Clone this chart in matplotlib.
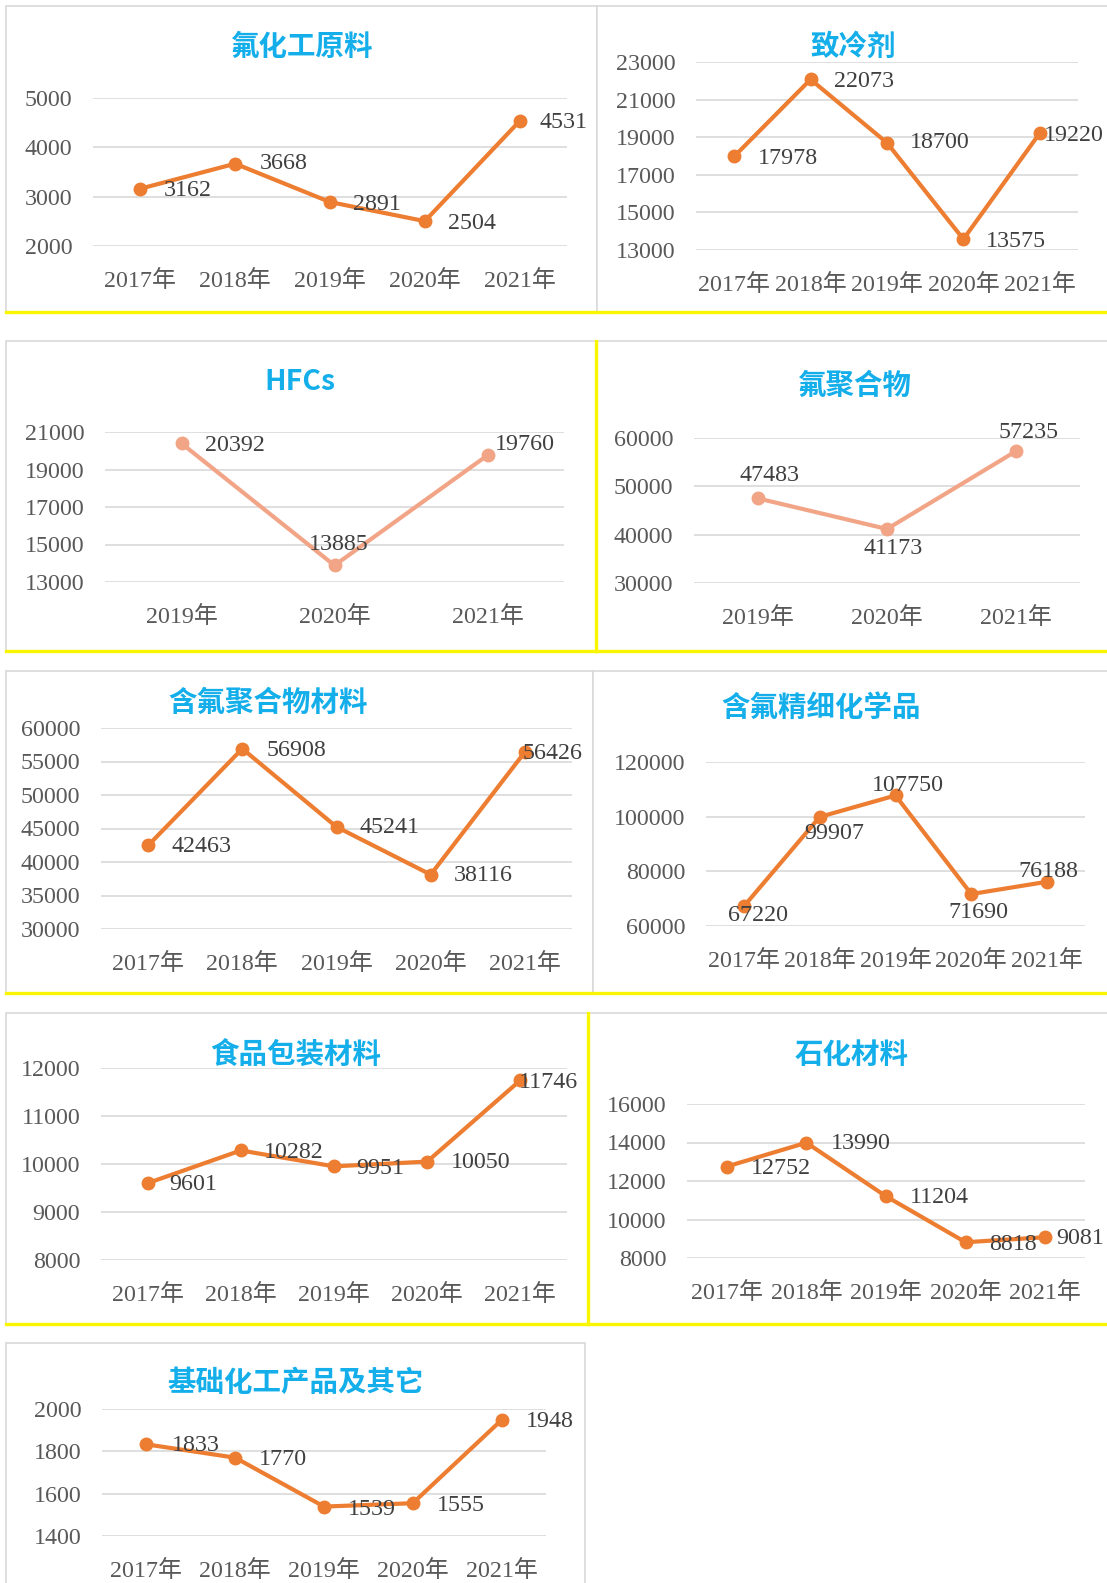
import matplotlib
matplotlib.use('Agg')
import matplotlib.pyplot as plt
from matplotlib.lines import Line2D
from matplotlib.patches import Rectangle

W, H = 1107, 1583
SERIF = ['Liberation Serif', 'Noto Sans CJK SC']
plt.rcParams['font.family'] = SERIF

# data
years5 = ['2017年', '2018年', '2019年', '2020年', '2021年']
years3 = ['2019年', '2020年', '2021年']

fluoro_raw = [3162, 3668, 2891, 2504, 4531]
refrigerant = [17978, 22073, 18700, 13575, 19220]
hfcs = [20392, 13885, 19760]
fluoropolymer = [47483, 41173, 57235]
polymer_material = [42463, 56908, 45241, 38116, 56426]
fine_chem = [67220, 99907, 107750, 71690, 76188]
food_pack = [9601, 10282, 9951, 10050, 11746]
petrochem = [12752, 13990, 11204, 8818, 9081]
basic_chem = [1833, 1770, 1539, 1555, 1948]

ticks_raw = [2000, 3000, 4000, 5000]
ticks_refr = [13000, 15000, 17000, 19000, 21000, 23000]
ticks_hfcs = [13000, 15000, 17000, 19000, 21000]
ticks_fp = [30000, 40000, 50000, 60000]
ticks_pm = [30000, 35000, 40000, 45000, 50000, 55000, 60000]
ticks_fine = [60000, 80000, 100000, 120000]
ticks_food = [8000, 9000, 10000, 11000, 12000]
ticks_petro = [8000, 10000, 12000, 14000, 16000]
ticks_basic = [1400, 1600, 1800, 2000]

ORANGE = '#ED7D31'
SALMON = '#F2A586'
TITLE_C = '#14AEEA'
GRID_C = '#D9D9D9'
YELLOW = '#FAF500'

# layout in pixels: box, plot area (x0, x1, y_top, y_bottom), title centre, label offsets (dx, dy down)
panels = [
    dict(title='氟化工原料', cats=years5, vals=fluoro_raw, ticks=ticks_raw, color=ORANGE,
         box=(6, 6, 597, 312), plot=(93, 567, 98, 246), tpos=(301, 47),
         offs=[(47, 2), (48, 0), (47, 2), (47, 2), (44, 1)]),
    dict(title='致冷剂', cats=years5, vals=refrigerant, ticks=ticks_refr, color=ORANGE,
         box=(597, 6, 1110, 312), plot=(696, 1078, 62, 250), tpos=(853, 47),
         offs=[(54, 2), (53, 2), (53, 0), (53, 2), (34, 2)]),
    dict(title='HFCs', cats=years3, vals=hfcs, ticks=ticks_hfcs, color=SALMON,
         box=(6, 341, 596, 651), plot=(105, 564, 432, 582), tpos=(300, 382),
         offs=[(53, 2), (4, -21), (37, -11)]),
    dict(title='氟聚合物', cats=years3, vals=fluoropolymer, ticks=ticks_fp, color=SALMON,
         box=(596, 341, 1110, 651), plot=(694, 1080, 438, 583), tpos=(854, 386),
         offs=[(11, -23), (6, 20), (13, -19)]),
    dict(title='含氟聚合物材料', cats=years5, vals=polymer_material, ticks=ticks_pm, color=ORANGE,
         box=(6, 671, 593, 993), plot=(101, 572, 728, 929), tpos=(268, 703),
         offs=[(53, 1), (54, 2), (53, 1), (53, 1), (28, 2)]),
    dict(title='含氟精细化学品', cats=years5, vals=fine_chem, ticks=ticks_fine, color=ORANGE,
         box=(593, 671, 1110, 993), plot=(706, 1085, 762, 926), tpos=(821, 708),
         offs=[(14, 9), (15, 17), (12, -10), (7, 18), (1, -10)]),
    dict(title='食品包装材料', cats=years5, vals=food_pack, ticks=ticks_food, color=ORANGE,
         box=(6, 1013, 588, 1324), plot=(101, 567, 1068, 1260), tpos=(296, 1055),
         offs=[(46, 1), (53, 2), (46, 2), (53, 1), (28, 2)]),
    dict(title='石化材料', cats=years5, vals=petrochem, ticks=ticks_petro, color=ORANGE,
         box=(588, 1013, 1110, 1324), plot=(687, 1085, 1104, 1258), tpos=(852, 1055),
         offs=[(54, 2), (54, 1), (53, 1), (47, 2), (35, 1)]),
    dict(title='基础化工产品及其它', cats=years5, vals=basic_chem, ticks=ticks_basic, color=ORANGE,
         box=(6, 1343, 585, 1600), plot=(102, 546, 1409, 1536), tpos=(296, 1383),
         offs=[(49, 1), (48, 2), (48, 3), (48, 2), (48, 1)]),
]

fig = plt.figure(figsize=(W / 100, H / 100), dpi=100)
fig.patch.set_facecolor('white')


def fx(x):
    return x / W


def fy(y):
    return 1 - y / H


for p in panels:
    bx0, by0, bx1, by1 = p['box']
    fig.add_artist(Rectangle((fx(bx0), fy(by1)), fx(bx1 - bx0), (by1 - by0) / H,
                             transform=fig.transFigure, facecolor='white',
                             edgecolor=GRID_C, lw=1.2, zorder=0))

    x0, x1, yt, yb = p['plot']
    ax = fig.add_axes([fx(x0), fy(yb), fx(x1 - x0), (yb - yt) / H])
    n = len(p['cats'])
    xs = list(range(n))
    ax.plot(xs, p['vals'], color=p['color'], lw=3, marker='o', ms=9,
            clip_on=False, zorder=3)
    ax.set_xlim(-0.5, n - 0.5)
    ax.set_ylim(p['ticks'][0], p['ticks'][-1])
    ax.set_yticks(p['ticks'])
    ax.set_yticklabels([str(t) for t in p['ticks']], fontfamily=SERIF)
    ax.set_xticks(xs)
    ax.set_xticklabels(p['cats'], fontfamily=SERIF)
    ax.tick_params(axis='both', length=0, labelsize=17.3, colors='#595959')
    ax.tick_params(axis='y', pad=15)
    ax.tick_params(axis='x', pad=17)
    for s in ax.spines.values():
        s.set_visible(False)
    ax.yaxis.grid(True, color=GRID_C, lw=1.2)
    ax.set_axisbelow(True)
    ax.patch.set_alpha(0)

    for i, v in enumerate(p['vals']):
        dx, dy = p['offs'][i]
        ax.annotate(str(v), (i, v), xytext=(dx, -dy), textcoords='offset pixels',
                    ha='center', va='center', fontsize=17.3, color='#404040', zorder=4)

    fig.text(fx(p['tpos'][0]), fy(p['tpos'][1]), p['title'], ha='center', va='center',
             fontsize=20.5, color=TITLE_C, fontweight='bold',
             family=['Noto Sans CJK SC', 'DejaVu Sans'])

# yellow separator lines
for y in [312, 651, 993, 1324]:
    fig.add_artist(Line2D([fx(6), 1], [fy(y), fy(y)], transform=fig.transFigure,
                          color=YELLOW, lw=2.4))
fig.add_artist(Line2D([fx(596), fx(596)], [fy(341), fy(651)], transform=fig.transFigure,
                      color=YELLOW, lw=2.4))
fig.add_artist(Line2D([fx(588), fx(588)], [fy(1013), fy(1324)], transform=fig.transFigure,
                      color=YELLOW, lw=2.4))

fig.savefig('out.png', dpi=100, facecolor='white')
